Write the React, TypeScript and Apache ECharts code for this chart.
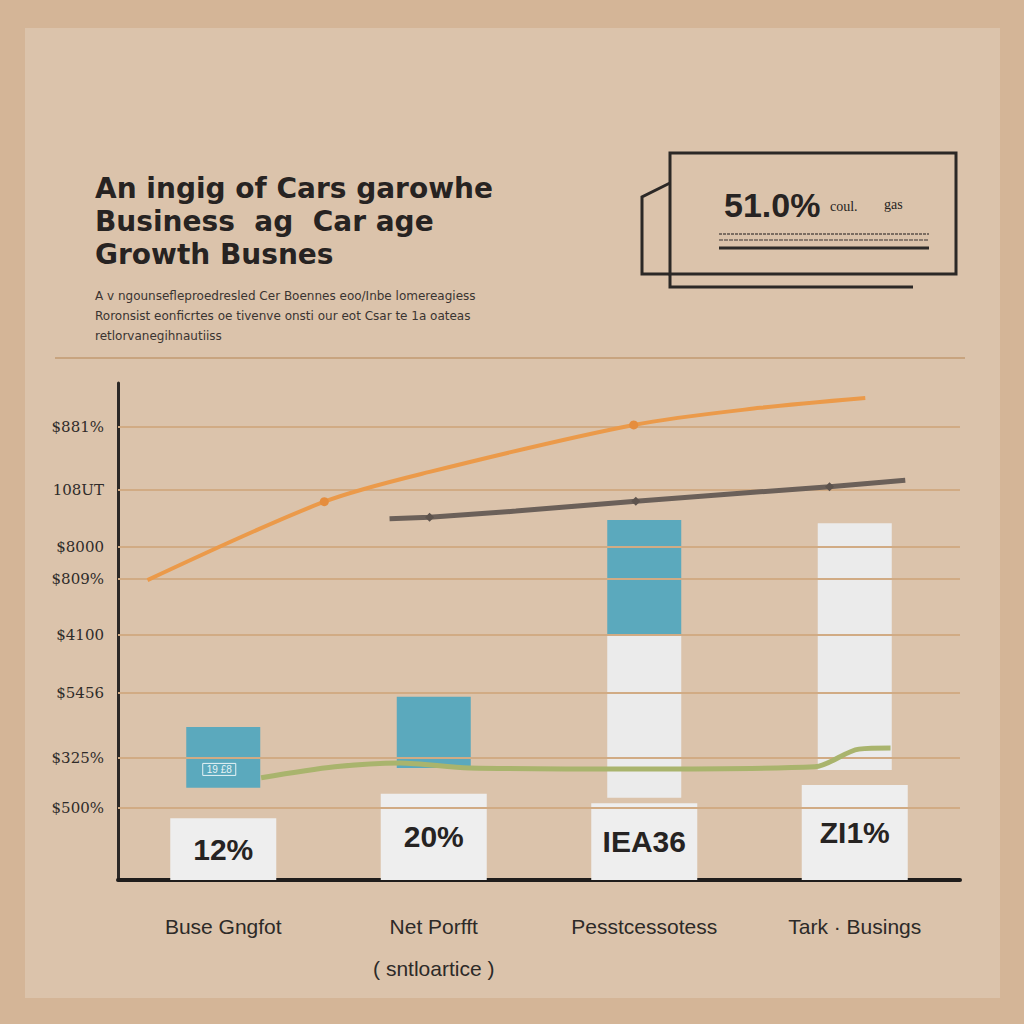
import React, { useEffect, useRef } from "react";
import * as echarts from "echarts";

const categories = ["Buse Gngfot", "Net Porfft\n( sntloartice )", "Pesstcessotess", "Tark · Busings"];
const boxValues = [1.12, 1.56, 1.39, 1.72];
const boxLabels = ["12%", "20%", "IEA36", "ZI1%"];
const floatBase = [1.67, 2.03, 1.49, 1.99];
const whiteSegment = [0, 0, 2.93, 4.47];
const blueSegment = [1.1, 1.29, 2.1, 0];
const blueTag = "19 £8";

const orangeLine = [
  [0.14, 5.43], [0.98, 6.85], [1.48, 7.39], [2.45, 8.24], [3.05, 8.55], [3.55, 8.73],
];
const orangeMarked = [1, 3];
const grayLine = [
  [1.29, 6.54], [1.48, 6.57], [1.89, 6.68], [2.46, 6.86], [3.05, 7.03], [3.38, 7.12], [3.74, 7.24],
];
const grayMarked = [1, 3, 5];
const greenLine = [
  [0.68, 1.85], [1.03, 2.05], [1.34, 2.12], [1.67, 2.03], [2.48, 2.01], [3.31, 2.05], [3.52, 2.37], [3.67, 2.39],
];

const gridValues = [8.2, 7.06, 6.03, 5.45, 4.44, 3.39, 2.21, 1.3];
const yTickLabels = ["$881%", "108UT", "$8000", "$809%", "$4100", "$5456", "$325%", "$500%"];

const titleLines = ["An ingig of Cars garowhe", "Business  ag  Car age", "Growth Busnes"];
const subtitleLines = [
  "A v ngounsefleproedresled Cer Boennes eoo/Inbe lomereagiess",
  "Roronsist eonficrtes oe tivenve onsti our eot Csar te 1a oateas",
  "retlorvanegihnautiiss",
];
const kpiValue = "51.0%";
const kpiNotes = ["coul.", "gas"];

const INK = "#272322";

export default function App() {
  const ref = useRef<HTMLDivElement>(null);
  useEffect(() => {
    if (!ref.current) return;
    const chart = echarts.init(ref.current, null, { renderer: "svg" });

    const pointData = (pts: number[][], marked: number[], size: number, color: string) =>
      pts.map((p, i) => ({
        value: p,
        symbolSize: marked.includes(i) ? size : 0,
        itemStyle: { color },
      }));

    const graphic: any[] = [
      { type: "rect", z: -10, shape: { x: 25, y: 28, width: 975, height: 970 }, style: { fill: "#dbc3ab" } },
      ...titleLines.map((t, i) => ({
        type: "text", z: 10, x: 95, y: 174 + i * 33,
        style: { text: t, fill: INK, font: "bold 28px 'DejaVu Sans', sans-serif" },
      })),
      ...subtitleLines.map((t, i) => ({
        type: "text", z: 10, x: 95, y: 290 + i * 20,
        style: { text: t, fill: "#3a3431", font: "12px 'DejaVu Sans', sans-serif" },
      })),
      { type: "line", z: 10, shape: { x1: 55, y1: 358, x2: 965, y2: 358 }, style: { stroke: "#c8a47f", lineWidth: 2 } },
      { type: "rect", z: 10, shape: { x: 670, y: 153, width: 286, height: 121 }, style: { fill: "none", stroke: "#2b2826", lineWidth: 3 } },
      { type: "polyline", z: 10, shape: { points: [[670, 183], [642, 197], [642, 274], [670, 274]] }, style: { fill: "none", stroke: "#2b2826", lineWidth: 3 } },
      { type: "polyline", z: 10, shape: { points: [[670, 274], [670, 287], [913, 287]] }, style: { fill: "none", stroke: "#2b2826", lineWidth: 3 } },
      { type: "text", z: 10, x: 724, y: 188, style: { text: kpiValue, fill: INK, font: "bold 34px 'Liberation Sans', Arial, sans-serif" } },
      { type: "text", z: 10, x: 830, y: 199, style: { text: kpiNotes[0], fill: INK, font: "14px 'Liberation Serif', serif" } },
      { type: "text", z: 10, x: 884, y: 197, style: { text: kpiNotes[1], fill: INK, font: "14px 'Liberation Serif', serif" } },
      { type: "line", z: 10, shape: { x1: 719, y1: 234, x2: 929, y2: 234 }, style: { stroke: "#7b6d62", lineWidth: 2, lineDash: [3, 1] } },
      { type: "line", z: 10, shape: { x1: 719, y1: 240, x2: 929, y2: 240 }, style: { stroke: "#8a7b6f", lineWidth: 2, lineDash: [4, 1] } },
      { type: "line", z: 10, shape: { x1: 719, y1: 248, x2: 929, y2: 248 }, style: { stroke: "#2d2a28", lineWidth: 3 } },
    ];

    chart.setOption({
      animation: false,
      backgroundColor: "#d4b597",
      graphic,
      grid: { left: 118, right: 64, top: 383, bottom: 144, containLabel: false },
      xAxis: [
        {
          type: "category",
          data: categories,
          axisLine: { show: true, lineStyle: { color: "#1f1d1c", width: 4 } },
          axisTick: { show: false },
          axisLabel: {
            color: "#2d2a28",
            fontSize: 21,
            fontFamily: "'Liberation Sans', Arial, sans-serif",
            lineHeight: 42,
            margin: 25,
          },
        },
        { type: "category", data: categories, show: false },
        { type: "value", min: 0, max: 4, show: false },
      ],
      yAxis: {
        type: "value",
        min: 0,
        max: 9,
        interval: 1,
        axisLine: { show: true, lineStyle: { color: "#2b2826", width: 3 } },
        axisTick: { show: false },
        axisLabel: { show: false },
        splitLine: { show: false },
      },
      series: [
        {
          type: "line",
          xAxisIndex: 2,
          data: [],
          z: 1,
          silent: true,
          markLine: {
            silent: true,
            symbol: "none",
            lineStyle: { color: "#d1ab84", width: 2, type: "solid" },
            label: {
              show: true,
              position: "start",
              distance: 14,
              color: "#2f2b29",
              fontSize: 15,
              fontFamily: "'DejaVu Serif', 'Liberation Serif', serif",
              formatter: (p: any) => p.name,
            },
            data: gridValues.map((v, i) => ({ yAxis: v, name: yTickLabels[i] })),
          },
        },
        {
          type: "bar",
          xAxisIndex: 0,
          barWidth: 106,
          data: boxValues,
          itemStyle: { color: "#eeeeee" },
          label: {
            show: true,
            position: "inside",
            formatter: (p: any) => boxLabels[p.dataIndex],
            color: "#262322",
            fontSize: 30,
            fontWeight: "bold",
            fontFamily: "'Liberation Sans', Arial, sans-serif",
          },
        },
        {
          type: "bar",
          xAxisIndex: 1,
          stack: "float",
          barWidth: 74,
          data: floatBase,
          itemStyle: { color: "transparent" },
          silent: true,
        },
        {
          type: "bar",
          xAxisIndex: 1,
          stack: "float",
          barWidth: 74,
          data: whiteSegment,
          itemStyle: { color: "#ebebeb" },
        },
        {
          type: "bar",
          xAxisIndex: 1,
          stack: "float",
          barWidth: 74,
          data: blueSegment.map((v, i) =>
            i === 0
              ? {
                  value: v,
                  label: {
                    show: true,
                    position: "inside",
                    offset: [-4, 12],
                    formatter: blueTag,
                    color: "#e6f3f6",
                    fontSize: 10,
                    borderColor: "#e6f3f6",
                    borderWidth: 1,
                    padding: [1, 4],
                  },
                }
              : v
          ),
          itemStyle: { color: "#5ba9bd" },
        },
        {
          type: "line",
          xAxisIndex: 2,
          data: pointData(greenLine, [], 0, "#a9b46d"),
          symbol: "circle",
          smooth: 0.3,
          lineStyle: { color: "#a9b46d", width: 5 },
          z: 5,
        },
        {
          type: "line",
          xAxisIndex: 2,
          data: pointData(grayLine, grayMarked, 9, "#5d534d"),
          symbol: "diamond",
          lineStyle: { color: "#6b6059", width: 5 },
          z: 5,
        },
        {
          type: "line",
          xAxisIndex: 2,
          data: pointData(orangeLine, orangeMarked, 9, "#e58d3e"),
          symbol: "circle",
          smooth: 0.3,
          lineStyle: { color: "#eb9a4a", width: 4 },
          z: 5,
        },
      ],
    });
    return () => chart.dispose();
  }, []);

  return (
    <div
      ref={ref}
      style={{ position: "fixed", left: 0, top: 0, width: 1024, height: 1024 }}
    />
  );
}
